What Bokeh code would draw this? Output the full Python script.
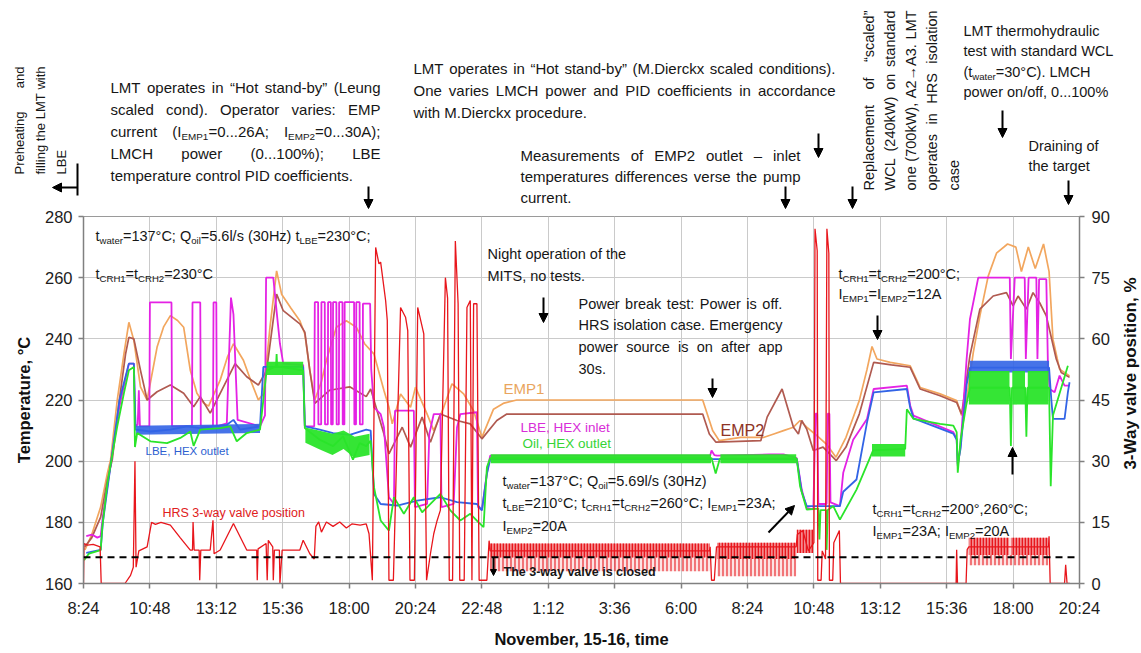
import math
import re

from bokeh.embed import file_html
from bokeh.layouts import column, row
from bokeh.models import Arrow, FixedTicker, Label, LinearAxis, NormalHead, Range1d, Span
from bokeh.plotting import figure
from bokeh.resources import INLINE

FONT = "Liberation Sans"
INK = "#161616"

# ---------------------------------------------------------------- axes / ticks
tick_minutes = [504, 648, 792, 936, 1080, 1224, 1368, 1512, 1656, 1800,
                1944, 2088, 2232, 2376, 2520, 2664]
tick_labels = ["8:24", "10:48", "13:12", "15:36", "18:00", "20:24", "22:48", "1:12",
               "3:36", "6:00", "8:24", "10:48", "13:12", "15:36", "18:00", "20:24"]
temp_ticks = [160, 180, 200, 220, 240, 260, 280]
valve_ticks = [0, 15, 30, 45, 60, 75, 90]
valve_closed = 6.45          # % : below this level the 3-way valve is closed

# ---------------------------------------------------------------- series
# (hour counted from 0:00 on November 15, value)
emp1 = [(8.45, 171), (8.70, 176), (9.02, 185), (9.26, 195.9), (9.38, 200.5), (9.62, 220),
        (9.86, 235), (10.04, 245.4), (10.22, 239.5), (10.46, 224.3), (10.70, 220),
        (11.06, 237.3), (11.30, 244), (11.54, 247.6), (11.80, 246), (12.02, 243.8),
        (12.26, 229.7), (12.50, 222.2), (12.74, 219), (12.92, 218), (13.34, 226.5),
        (13.60, 234), (13.82, 238.4), (14.18, 233), (14.46, 226), (14.72, 220),
        (14.90, 222), (15.14, 243.8), (15.38, 262.2), (15.56, 254.6), (15.90, 250),
        (16.22, 245.9), (16.40, 241.6), (16.58, 229.7), (16.76, 220), (17.00, 226),
        (17.18, 233), (17.54, 243.8), (17.90, 245.9), (18.26, 243.8), (18.56, 238.4),
        (18.90, 235), (19.26, 223.1), (19.44, 217.6), (19.56, 212.2), (19.86, 222),
        (20.22, 217.6), (20.40, 224.2), (20.82, 215.4), (21.06, 210), (21.42, 217.6),
        (21.72, 225.3), (22.14, 222), (22.50, 216.5), (22.80, 207.8), (23.22, 217),
        (23.60, 219), (24.06, 220), (27.00, 220), (30.78, 220), (31.14, 210),
        (31.38, 206.7), (32.16, 207.8), (33.00, 207.8), (33.35, 208.9), (33.70, 210),
        (34.06, 211.1), (34.30, 213.3), (34.54, 211.1), (34.90, 208.4), (35.25, 205.6),
        (35.60, 201.3), (35.96, 207.8), (36.44, 219.8), (36.72, 230), (36.90, 237.5),
        (37.08, 233.4), (37.56, 232.3), (38.28, 231.2), (38.64, 224.1), (39.36, 222),
        (39.96, 219.8), (40.14, 214.9), (40.32, 220.3), (40.56, 235.5), (40.80, 247.5),
        (41.10, 260.5), (41.40, 268), (41.80, 271), (42.10, 270), (42.30, 262),
        (42.55, 270), (42.80, 263), (43.10, 271), (43.30, 262), (43.44, 239.9),
        (43.68, 230.1), (44.04, 227.9)]

emp2 = [(8.45, 172), (8.70, 175), (9.02, 181.7), (9.26, 193.7), (9.44, 200.5), (9.68, 218.9),
        (9.92, 235), (10.04, 240.5), (10.22, 240), (10.46, 229.7), (10.70, 220),
        (11.06, 222.7), (11.54, 224.9), (12.02, 222.2), (12.38, 217.8), (12.62, 221.1),
        (12.98, 215.7), (13.34, 222.2), (13.88, 231.9), (14.30, 227.6), (14.72, 224.9),
        (15.02, 229.7), (15.38, 254.6), (15.62, 249.2), (16.22, 244.9), (16.40, 242.2),
        (16.58, 229.7), (16.76, 218.9), (17.30, 223.2), (18.02, 224.3), (18.62, 221.1),
        (18.78, 223.6), (19.26, 208.9), (19.44, 202.4), (19.92, 211.1), (20.22, 204.6),
        (20.64, 214.4), (20.94, 206.2), (21.30, 215.4), (21.90, 213.3), (22.38, 212.2),
        (22.80, 207.3), (23.34, 213.3), (23.70, 215.4), (27.00, 215.4), (30.78, 215.4),
        (31.02, 208.9), (31.26, 206.2), (32.88, 206.7), (33.11, 214.4), (33.65, 223.6),
        (34.06, 211.1), (34.24, 208.9), (34.36, 213.3), (34.54, 210.5), (34.78, 203.5),
        (35.13, 204.6), (35.61, 200.2), (35.96, 204.6), (36.44, 215.4), (36.96, 232.3),
        (37.60, 231.5), (38.28, 230.7), (38.64, 223.6), (39.36, 221.4), (39.96, 219.2),
        (40.14, 215.4), (40.44, 234.5), (40.80, 249.7), (41.28, 254), (41.76, 255.1),
        (42.00, 250.8), (42.18, 254), (42.48, 249.7), (42.72, 255.1), (42.96, 251.8),
        (43.20, 247.5), (43.56, 233.4), (43.74, 229), (44.04, 227.4)]

hex_inlet = [(8.50, 175.5), (8.70, 176), (8.90, 175), (9.02, 175.5), (9.10, 182), (9.40, 200),
             (9.70, 218), (10.04, 231.9), (10.22, 231.9), (10.28, 211.4), (10.36, 212),
             (10.40, 223.2), (10.44, 211.4), (10.78, 211.4), (10.80, 251.9), (11.58, 251.9),
             (11.60, 211.4), (12.32, 211.4), (12.34, 251.9), (12.62, 251.9), (12.64, 211.4),
             (13.08, 211.4), (13.10, 251.9), (13.20, 251.9), (13.22, 211.4), (13.58, 212.4),
             (13.73, 253.5), (13.82, 248), (13.97, 213.5), (14.78, 211.4), (14.96, 215),
             (15.00, 260), (15.26, 260), (15.38, 249), (15.50, 238.4), (15.62, 231.9),
             (16.34, 231.4), (16.40, 211.4), (16.74, 211.4), (16.76, 252), (16.88, 252),
             (16.89, 212), (16.99, 212), (17.00, 252), (17.12, 252), (17.13, 212),
             (17.23, 212), (17.24, 252), (17.34, 252), (17.35, 212), (17.41, 212),
             (17.42, 252), (17.54, 252), (17.55, 212), (17.63, 212), (17.64, 252),
             (17.76, 252), (17.77, 212), (17.83, 212), (17.84, 252), (18.18, 252),
             (18.19, 212), (18.25, 212), (18.26, 252), (18.38, 252), (18.39, 212),
             (18.49, 212), (18.50, 251.5), (18.76, 251.5), (18.80, 230), (18.90, 217.6),
             (19.14, 215.4), (19.26, 211), (19.44, 188.2), (19.62, 186), (19.66, 216.5),
             (20.34, 216.5), (20.38, 185), (20.82, 186), (20.90, 208.9), (21.06, 215.4),
             (21.30, 215.4), (21.34, 185), (21.78, 186), (21.90, 211), (22.02, 215.4),
             (22.62, 216), (22.66, 185), (22.80, 184), (22.98, 196), (23.10, 201.8),
             (31.05, 201.8), (31.10, 203.5), (31.20, 202), (31.30, 201.8), (33.20, 202.2),
             (33.70, 202.2), (34.18, 201), (34.36, 190.7), (34.54, 184.7), (34.78, 184.2),
             (34.86, 215.5), (34.92, 215.5), (34.96, 186), (35.26, 186), (35.30, 215.5),
             (35.36, 215.5), (35.40, 186.5), (35.74, 185.3), (35.86, 196.2), (36.22, 207),
             (36.72, 213.8), (36.96, 223.6), (38.16, 224.7), (38.28, 218.2), (38.40, 214.9),
             (39.84, 209.5), (39.96, 207.3), (40.00, 198.4), (40.10, 205), (40.32, 233.4),
             (40.44, 246.4), (40.74, 260), (41.88, 260), (41.92, 233.4), (42.06, 260),
             (42.42, 260), (42.46, 233.4), (42.56, 260), (42.84, 260), (42.88, 233.4),
             (42.94, 259.5), (43.20, 259.5), (43.26, 230.7), (43.32, 223.6), (43.50, 222.5),
             (43.68, 228), (43.86, 224.7), (44.04, 224.7)]

hex_outlet = [(8.50, 170), (9.02, 171), (9.10, 180), (9.40, 200), (9.70, 220), (10.04, 231.9),
              (10.22, 231.9), (10.28, 210.3), (10.82, 209.7), (11.54, 210.3), (12.14, 211.4),
              (12.62, 210.8), (13.10, 211.4), (13.58, 211.9), (13.82, 213.5), (14.06, 210.3),
              (14.78, 211.4), (14.90, 230.8), (16.34, 230.8), (16.40, 211.4), (16.94, 210.3),
              (17.42, 209.2), (18.02, 208.6), (18.62, 210.3), (18.78, 210), (18.90, 189.3),
              (19.14, 186), (19.74, 185.5), (20.46, 187.1), (21.30, 188.2), (21.90, 186.6),
              (22.62, 186), (22.80, 183.9), (22.98, 195.8), (23.10, 200.7), (34.18, 200.7),
              (34.36, 190), (34.54, 185.3), (35.74, 185.3), (35.86, 190), (36.34, 194),
              (36.72, 212.7), (36.96, 222.5), (38.16, 223.6), (38.28, 217.5), (38.40, 214),
              (39.84, 209), (39.96, 207), (40.00, 199), (40.10, 204), (40.32, 225),
              (40.44, 230.6), (43.30, 230.6), (43.38, 220.3), (43.44, 213.8), (43.86, 213.8),
              (43.98, 222.5), (44.04, 225.8)]

oil_outlet = [(8.42, 167.6), (8.60, 169.8), (9.02, 170.9), (9.08, 178.5), (9.26, 192.6),
              (9.62, 211.4), (9.86, 222.2), (10.04, 229.7), (10.22, 230.8), (10.26, 204.6),
              (10.34, 209.2), (10.82, 206.5), (11.42, 205.9), (11.90, 207.6), (12.26, 209.7),
              (12.38, 205), (12.62, 210.3), (13.34, 210.8), (13.70, 211.4), (13.94, 206.5),
              (14.30, 209.2), (14.78, 210.3), (15.02, 229.7), (15.36, 231), (15.38, 235),
              (15.40, 231), (16.34, 229.7), (16.40, 210.8), (16.94, 207), (17.42, 204.9),
              (17.78, 208.1), (18.14, 200.5), (18.38, 205.9), (18.62, 204.9), (18.78, 206.7),
              (18.90, 191.5), (19.14, 180.6), (19.44, 177.3), (19.62, 188.2), (19.98, 182.8),
              (20.34, 188.2), (20.64, 183.3), (20.94, 186), (21.30, 189.3), (21.66, 183.9),
              (22.02, 180.6), (22.38, 182.8), (22.68, 180), (22.86, 178.4), (22.98, 198),
              (23.10, 201), (31.10, 201), (31.25, 196), (31.40, 200.8), (34.18, 200.8),
              (34.30, 191.8), (34.54, 184.2), (34.96, 184.5), (35.00, 174.4), (35.04, 184),
              (35.24, 184), (35.26, 171), (35.30, 184), (35.50, 185.3), (35.74, 180.9),
              (36.34, 190.7), (36.94, 203.5), (38.10, 204), (38.16, 217), (38.40, 213.8),
              (39.36, 212.2), (39.84, 211.6), (39.96, 209.5), (40.00, 196.2), (40.10, 207),
              (40.30, 218), (40.44, 224), (41.88, 224), (41.92, 205), (41.96, 224),
              (42.44, 224), (42.48, 208), (42.52, 224), (43.30, 224), (43.36, 191.8),
              (43.44, 214.9), (43.98, 231.2)]

# fast oscillation envelopes: (hour, low, high)
oil_bands = [
    [(15.02, 228.2, 232.5), (16.34, 228.2, 232.5)],
    [(16.42, 206, 211), (16.90, 204, 210), (17.40, 202, 209), (17.80, 204, 210),
     (18.20, 201, 208), (18.74, 202, 209)],
    [(23.12, 199.3, 202.3), (31.08, 199.3, 202.3)],
    [(31.42, 199.3, 202.3), (34.16, 199.3, 202.3)],
    [(36.90, 201.5, 205.6), (38.10, 201.5, 205.6)],
    [(40.40, 218.5, 229.5), (41.87, 218.5, 229.5)],
    [(41.97, 218.5, 229.5), (42.43, 218.5, 229.5)],
    [(42.53, 218.5, 229.5), (43.28, 218.5, 229.5)],
]
outlet_bands = [
    [(10.30, 208.6, 211.6), (14.78, 209.2, 212.2)],
    [(40.44, 229, 232.8), (43.30, 229, 232.8)],
]

valve = [(8.40, 0), (8.42, 9.8), (8.55, 9.4), (8.75, 9.6), (9.00, 9.0), (9.04, 0), (9.90, 0),
         (10.10, 2), (10.20, 4), (10.26, 30), (10.30, 4), (10.40, 8), (10.70, 9), (10.86, 15),
         (11.00, 14.5), (11.20, 15), (11.54, 14.3), (11.90, 11.2), (12.26, 8.2), (12.34, 8.2),
         (12.36, 15.1), (12.40, 8.2), (12.58, 8.2), (12.60, 0.8), (12.64, 8.2), (12.98, 8.2),
         (13.08, 15.5), (13.12, 7.3), (13.34, 8.2), (13.82, 14.7), (14.30, 8.2), (14.66, 8.2),
         (14.68, 0.8), (14.71, 8.5), (15.00, 9.8), (15.04, 0.8), (15.08, 10.6), (15.24, 9),
         (15.26, 0.8), (15.30, 8.2), (15.48, 8.2), (15.50, 0), (15.58, 8.2), (16.22, 8.2),
         (16.34, 10.6), (16.58, 7.3), (16.74, 6.0), (16.80, 14), (16.90, 15.1), (17.00, 12.6),
         (17.18, 15.1), (17.42, 14), (17.66, 15.1), (17.90, 13.6), (18.10, 14.6), (18.40, 14.3),
         (18.62, 14.6), (18.72, 12.2), (18.84, 0.8), (18.96, 82.4), (19.08, 78.4),
         (19.14, 78.8), (19.32, 69.4), (19.38, 64.5), (19.44, 0.8), (19.60, 0.8),
         (19.86, 67.7), (20.04, 65.3), (20.12, 62), (20.20, 0.8), (20.36, 0.8), (20.48, 67.7),
         (20.70, 61.2), (20.80, 0.8), (20.94, 7.3), (21.06, 12.2), (21.18, 15.4), (21.30, 18),
         (21.48, 75), (21.56, 70), (21.62, 0.8), (21.74, 0.8), (21.84, 84), (21.94, 68.6),
         (22.00, 0.8), (22.16, 0.8), (22.26, 67.7), (22.38, 69.4), (22.44, 0.8), (22.50, 68.6),
         (22.62, 68.6), (22.70, 0.8), (22.98, 0.8), (23.06, 10.5), (23.10, 8), (31.03, 8),
         (31.05, 9), (31.10, 0.8), (31.20, 0.8), (31.28, 9), (34.16, 9), (34.20, 12),
         (34.40, 13), (34.60, 8), (34.80, 10), (34.84, 87), (34.92, 81.6), (34.94, 0.8),
         (35.06, 0.8), (35.10, 8), (35.22, 6), (35.27, 87), (35.34, 81), (35.36, 0.8),
         (35.48, 0.8), (35.52, 10), (35.72, 13), (35.76, 0), (39.94, 0), (39.96, 8.3),
         (39.99, 0), (40.30, 0), (40.34, 8.3), (40.40, 9), (43.28, 9), (43.30, 11.6),
         (43.34, 0), (43.86, 0), (43.90, 4.6), (43.95, 0), (44.05, 0)]

# dense part (upper) and sparse part (lower) of the valve hunting
valve_bands_dense = [
    [(23.08, 6.4, 9.8), (31.04, 6.4, 9.8)],
    [(31.30, 6.0, 10.0), (34.16, 6.0, 10.0)],
    [(34.18, 7.5, 13.2), (34.78, 7.5, 13.2)],
    [(40.40, 7.0, 11.2), (41.86, 7.0, 11.2)],
    [(41.92, 7.0, 11.2), (43.28, 7.0, 11.2)],
]
valve_bands_sparse = [
    [(23.08, 3.0, 6.4), (31.04, 3.0, 6.4)],
    [(31.30, 1.8, 6.0), (34.16, 1.8, 6.0)],
    [(40.40, 4.5, 7.0), (43.28, 4.5, 7.0)],
]

C_EMP1 = "#F2A65E"
C_EMP2 = "#B05A50"
C_INLET = "#E422E4"
C_OUTLET = "#3264E6"
C_OIL = "#2AE42A"
C_VALVE = "#E8161C"

# ---------------------------------------------------------------- page geometry
PAGE_W, PAGE_H = 1141, 653
NOTES_H = 209                       # strip above the chart that carries the notes
FRAME_L, FRAME_R, FRAME_T, FRAME_B = 83, 1079, 216, 583
SIDE_W = 27                         # strip right of the chart for the valve-axis title
MAIN_W = PAGE_W - SIDE_W

# ---------------------------------------------------------------- chart
p = figure(width=MAIN_W, height=PAGE_H - NOTES_H, output_backend="svg", toolbar_location=None,
           title=None, x_range=Range1d(504, 2664), y_range=Range1d(160, 280),
           min_border_left=FRAME_L, min_border_right=MAIN_W - FRAME_R,
           min_border_top=FRAME_T - NOTES_H, min_border_bottom=PAGE_H - FRAME_B)
p.extra_y_ranges = {"valve": Range1d(0, 90)}
p.background_fill_color = "white"
p.border_fill_color = "white"
p.outline_line_color = "#9A9A9A"

p.xaxis.ticker = FixedTicker(ticks=tick_minutes)
p.xaxis.major_label_overrides = dict(zip(tick_minutes, tick_labels))
p.xaxis.axis_label = "November, 15-16, time"
p.yaxis.ticker = FixedTicker(ticks=temp_ticks)
p.yaxis.axis_label = "Temperature, °C"
right = LinearAxis(y_range_name="valve", ticker=FixedTicker(ticks=valve_ticks))
p.add_layout(right, "right")

for ax in (p.xaxis[0], p.yaxis[0], right):
    ax.axis_line_color = "#808080"
    ax.axis_line_width = 1.5
    ax.major_tick_line_color = "#808080"
    ax.major_tick_line_width = 1.5
    ax.major_tick_out = 5
    ax.major_tick_in = 0
    ax.minor_tick_line_color = None
    ax.major_label_text_font = FONT
    ax.major_label_text_font_size = "16.5px"
    ax.major_label_text_color = "#1c1c1c"
    ax.axis_label_text_font = FONT
    ax.axis_label_text_font_size = "16.5px"
    ax.axis_label_text_font_style = "bold"
    ax.axis_label_text_color = "#111111"
p.xaxis.major_label_standoff = 10
p.xaxis.axis_label_standoff = 10
p.yaxis.major_label_standoff = 6
p.yaxis.axis_label_standoff = 9
right.major_label_standoff = 7

p.xgrid.grid_line_color = "#CACACA"
p.ygrid.grid_line_color = "#CACACA"


def hours_to_min(pairs):
    return [h * 60 for h, _ in pairs], [v for _, v in pairs]


def draw_band(band, color, alpha, **kw):
    xs = [h * 60 for h, _, _ in band]
    p.varea(x=xs, y1=[lo for _, lo, _ in band], y2=[hi for _, _, hi in band],
            fill_color=color, fill_alpha=alpha, **kw)


x, y = hours_to_min(emp1)
p.line(x, y, line_color=C_EMP1, line_width=1.7)
x, y = hours_to_min(emp2)
p.line(x, y, line_color=C_EMP2, line_width=1.7)
x, y = hours_to_min(hex_inlet)
p.line(x, y, line_color=C_INLET, line_width=1.8)
for b in outlet_bands:
    draw_band(b, C_OUTLET, 0.9)
x, y = hours_to_min(hex_outlet)
p.line(x, y, line_color=C_OUTLET, line_width=1.8)
for b in oil_bands:
    draw_band(b, C_OIL, 0.95)
x, y = hours_to_min(oil_outlet)
p.line(x, y, line_color=C_OIL, line_width=1.8)
for b in valve_bands_sparse:
    draw_band(b, C_VALVE, 0.12, y_range_name="valve", hatch_pattern="vertical_line",
              hatch_color=C_VALVE, hatch_alpha=0.9, hatch_scale=4, hatch_weight=1.2)
for b in valve_bands_dense:
    draw_band(b, C_VALVE, 0.5, y_range_name="valve", hatch_pattern="vertical_line",
              hatch_color=C_VALVE, hatch_alpha=1.0, hatch_scale=3, hatch_weight=1.6)
x, y = hours_to_min(valve)
p.line(x, y, line_color=C_VALVE, line_width=1.3, y_range_name="valve")

p.add_layout(Span(location=valve_closed, dimension="width", y_range_name="valve",
                  line_color="black", line_width=2, line_dash="7 5"))

# ---------------------------------------------------------------- notes strip and side strip
notes = figure(width=PAGE_W, height=NOTES_H, output_backend="svg", toolbar_location=None,
               title=None, x_range=Range1d(0, PAGE_W), y_range=Range1d(NOTES_H, 0),
               x_axis_location=None, y_axis_location=None,
               min_border_left=0, min_border_right=0, min_border_top=0, min_border_bottom=0)
notes.outline_line_color = None
notes.xgrid.visible = False
notes.ygrid.visible = False

side = figure(width=SIDE_W, height=PAGE_H - NOTES_H, output_backend="svg",
              toolbar_location=None, title=None,
              x_range=Range1d(MAIN_W, PAGE_W), y_range=Range1d(PAGE_H, NOTES_H),
              x_axis_location=None, y_axis_location=None,
              min_border_left=0, min_border_right=0, min_border_top=0, min_border_bottom=0)
side.outline_line_color = None
side.xgrid.visible = False
side.ygrid.visible = False

# ---------------------------------------------------------------- text helpers
ADV = {}
for chars, w in [("'", 191), ("ijl", 222), (" ,./:;!Ift[]", 278), ("-()r“”", 333),
                 ('"', 355), ("°", 400), ("cksvxyzJ", 500),
                 ("abdeghnopquL0123456789_$#?–", 556), ("=+<>", 584), ("FTZ", 611),
                 ("ABEKPSVXY&", 667), ("CDHNRUw", 722), ("GOQ", 778), ("mM", 833),
                 ("%", 889), ("W", 944), ("→…", 1000)]:
    for ch in chars:
        ADV[ch] = w


def text_width(s, size, bold=False):
    return sum(ADV.get(c, 556) for c in s) * size / 1000.0 * (1.07 if bold else 1.0)


def runs(s):
    out = []
    for part in re.split(r"(_\{[^}]*\})", s):
        if part:
            out.append((part[2:-1], True) if part.startswith("_{") else (part, False))
    return out


def rich_width(s, size):
    return sum(text_width(t, size * 0.66 if sub else size) for t, sub in runs(s))


def to_data(fig, px, py):
    """page pixel -> coordinates of the given figure"""
    if fig is p:
        return (504 + (px - FRAME_L) * 2160.0 / (FRAME_R - FRAME_L),
                160 + (FRAME_B - py) * 120.0 / (FRAME_B - FRAME_T))
    return px, py


def rich(fig, px, py, s, size, color=INK, bold=False, angle=0.0, align="left"):
    ca, sa = math.cos(angle), math.sin(angle)
    pos = 0.0
    for t, sub in runs(s):
        fs = size * 0.66 if sub else size
        shift = size * 0.33 if sub else 0.0
        lx = px + pos * ca + shift * sa
        ly = py - pos * sa + shift * ca
        x0, y0 = to_data(fig, lx, ly)
        fig.add_layout(Label(x=x0, y=y0, text=t, text_font=FONT,
                             text_font_size=f"{fs:.1f}px", text_color=color,
                             text_font_style="bold" if bold else "normal",
                             text_baseline="middle", text_align=align, angle=angle))
        pos += text_width(t, fs, bold)


def block(fig, px, py, lines, size, width=None, lead=22.0, angle=0.0, color=INK):
    ca, sa = math.cos(angle), math.sin(angle)
    for i, line in enumerate(lines):
        ox, oy = px + i * lead * sa, py + i * lead * ca
        words = line.split(" ")
        if width and i < len(lines) - 1 and len(words) > 1:
            ws = [rich_width(w, size) for w in words]
            gap = (width - sum(ws)) / (len(words) - 1)
            pos = 0.0
            for w, wv in zip(words, ws):
                rich(fig, ox + pos * ca, oy - pos * sa, w, size, color, angle=angle)
                pos += wv + gap
        else:
            rich(fig, ox, oy, line, size, color, angle=angle)


def arrow(fig, x0, y0, x1, y1, head=9):
    xs, ys = to_data(fig, x0, y0)
    xe, ye = to_data(fig, x1, y1)
    fig.add_layout(Arrow(x_start=xs, y_start=ys, x_end=xe, y_end=ye,
                         line_color="black", line_width=2,
                         end=NormalHead(size=head, fill_color="black", line_color="black")
                         if head else None))


# ---------------------------------------------------------------- notes above the chart
block(notes, 19, 174, ["Preheating and", "filling the LMT with", "LBE"], 13, width=108,
      lead=21, angle=math.pi / 2)
arrow(notes, 77, 163, 77, 195, head=0)
arrow(notes, 77, 187, 52, 187)

block(notes, 110, 87, ["LMT operates in “Hot stand-by” (Leung",
                       "scaled cond). Operator varies: EMP",
                       "current (I_{EMP1}=0...26A; I_{EMP2}=0...30A);",
                       "LMCH power (0...100%); LBE",
                       "temperature control PID coefficients."], 15, width=270, lead=22)
arrow(notes, 368, 186, 368, 208)

block(notes, 413, 68, ["LMT operates in “Hot stand-by” (M.Dierckx scaled conditions).",
                       "One varies LMCH power and PID coefficients in accordance",
                       "with M.Dierckx procedure."], 15, width=422, lead=22)
arrow(notes, 818, 133, 818, 157)

block(notes, 520, 155, ["Measurements of EMP2 outlet – inlet",
                        "temperatures differences verse the pump",
                        "current."], 15, width=280, lead=21)
arrow(notes, 785, 186, 785, 208)

block(notes, 868, 190, ["Replacement of “scaled”", "WCL (240kW) on standard",
                        "one (700kW), A2→A3. LMT", "operates in HRS isolation", "case"],
      14.5, width=180, lead=21.3, angle=math.pi / 2)
arrow(notes, 852, 186, 852, 208)

block(notes, 963, 30, ["LMT thermohydraulic", "test with standard WCL",
                       "(t_{water}=30°C). LMCH", "power on/off, 0...100%"], 14.5, lead=20.5)
arrow(notes, 1002, 110, 1002, 137)

block(notes, 1028, 145, ["Draining of", "the target"], 14.5, lead=20)
arrow(notes, 1068, 180, 1068, 204)

# valve-axis title, read bottom to top
rich(side, 1130, 399, "3-Way valve position, %", 17, color="#111111", bold=True,
     angle=math.pi / 2, align="center")

# ---------------------------------------------------------------- notes inside the chart
block(p, 95, 235, ["t_{water}=137°C; Q_{oil}=5.6l/s (30Hz) t_{LBE}=230°C;"], 14.5)
block(p, 95, 273, ["t_{CRH1}=t_{CRH2}=230°C"], 14.5)
block(p, 487, 253, ["Night operation of the", "MITS, no tests."], 14.5, lead=22)
arrow(p, 543, 297, 543, 322)
block(p, 578, 303, ["Power break test: Power is off.", "HRS isolation case. Emergency",
                    "power source is on after app", "30s."], 14.5, width=204, lead=21.7)
arrow(p, 712, 378, 712, 397)
block(p, 838, 273, ["t_{CRH1}=t_{CRH2}=200°C;", "I_{EMP1}=I_{EMP2}=12A"], 14.5, lead=20)
arrow(p, 877, 315, 877, 339)
block(p, 502, 480, ["t_{water}=137°C; Q_{oil}=5.69l/s (30Hz)",
                    "t_{LBE}=210°C; t_{CRH1}=t_{CRH2}=260°C; I_{EMP1}=23A;",
                    "I_{EMP2}=20A"], 14.5, lead=22.5)
block(p, 872, 508, ["t_{CRH1}=t_{CRH2}=200°,260°C;", "I_{EMP1}=23A; I_{EMP2}=20A"],
      14.5, lead=22)
arrow(p, 1012, 474, 1012, 447)
arrow(p, 768, 532, 794, 505)
rich(p, 503, 571, "The 3-way valve is closed", 12.5, bold=True)
arrow(p, 493, 557, 493, 575, head=6)

# series names
rich(p, 503, 388, "EMP1", 15, color="#E9A55E")
rich(p, 720, 430, "EMP2", 16, color="#8E3426")
rich(p, 520, 427, "LBE, HEX inlet", 13.5, color="#D82CD8")
rich(p, 522, 443, "Oil, HEX outlet", 13.5, color="#36D436")
rich(p, 145, 450, "LBE, HEX outlet", 11.5, color="#2E5FD0")
rich(p, 162, 512, "HRS 3-way valve position", 12.5, color="#E02020")

page = column(notes, row(p, side, spacing=0), spacing=0)
open("out.html", "w").write(file_html(page, INLINE))
